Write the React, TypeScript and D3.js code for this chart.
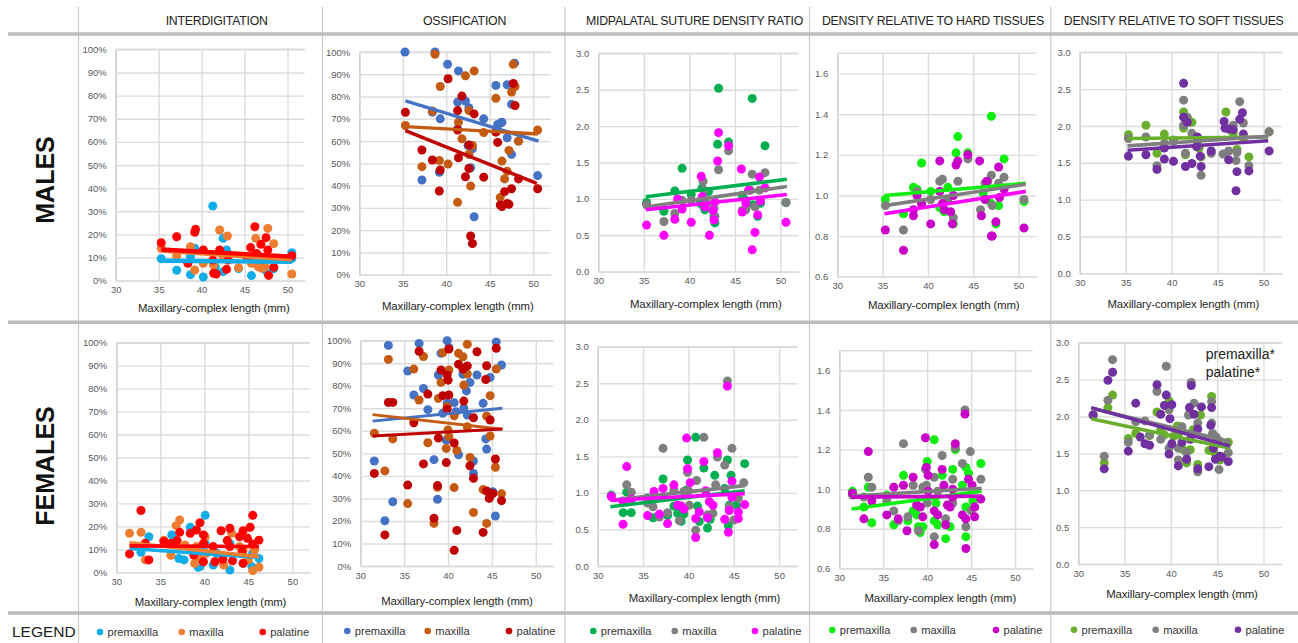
import React, { useEffect, useRef } from "react";
import * as d3 from "d3";

type Pt = [number, number];

const columnTitles = [
  "INTERDIGITATION",
  "OSSIFICATION",
  "MIDPALATAL SUTURE DENSITY RATIO",
  "DENSITY RELATIVE TO HARD TISSUES",
  "DENSITY RELATIVE TO SOFT TISSUES",
];
const seriesNames = ["premaxilla", "maxilla", "palatine"];
const xTicks = [30, 35, 40, 45, 50];
const percentTicks = [0, 10, 20, 30, 40, 50, 60, 70, 80, 90, 100];
const ratioTicks = [0, 0.5, 1, 1.5, 2, 2.5, 3];
const hardTicks = [0.6, 0.8, 1, 1.2, 1.4, 1.6];
const xTitle = "Maxillary-complex length (mm)";

// colours per column: premaxilla, maxilla, palatine
const colors1 = ["#12ade9", "#ed7d31", "#ff0000"];
const colors2 = ["#4472c4", "#c55a11", "#c00000"];
const colors3 = ["#00b050", "#7f7f7f", "#ff00ff"];
const colors4 = ["#0fee0f", "#7f7f7f", "#c800c8"];
const colors5 = ["#6aae2e", "#7f7f7f", "#7030a0"];

// ---- males ----
const mInterPre: Pt[] = [[35.3,9.5],[37.1,4.5],[38.7,2.6],[39.2,14],[40.2,1.6],[41.3,32.3],[42.5,18.3],[42.9,13.3],[42.5,3.9],[44.3,5.2],[45.8,2.2],[48.4,5.2],[47.6,3.9],[50.5,12.1],[50.5,9.6],[46,9],[41.4,7.5],[38.7,10.4],[47.2,7.5],[41.6,6]];
const mInterMax: Pt[] = [[35.3,14],[37.1,10.7],[38.7,14.7],[39.2,4.6],[40.2,7.5],[41.4,6.8],[42.1,21.9],[43,19.3],[42.5,10.4],[44.3,5.6],[45.8,7.5],[46.3,18.3],[46,10.4],[46.6,6],[47,5.3],[47.4,6],[47.7,22.6],[48.4,16],[50.5,2.9],[46.4,7.5]];
const mInterPal: Pt[] = [[35.3,16.4],[37.1,19],[38.4,7.5],[39.3,22.2],[39.2,20.9],[40.2,13.3],[41.3,8.9],[41.4,3.2],[41.7,2.9],[42.1,13.3],[42.9,4.9],[43.1,8.9],[45.7,14.3],[46.2,23.3],[46.4,11.8],[46.9,15.7],[47.5,18.6],[47.7,13.3],[47.8,2.3],[48.4,5.8],[50.5,10.8],[45.3,9.6]];
const mInterTrend = [[35.3,8.6,50.5,8.2],[35.3,13,50.5,9.2],[35.3,13.5,50.5,10.4]];

const mOssPre: Pt[] = [[35.25,100],[38.7,100],[40.15,94.5],[41.4,91.5],[45.7,85],[47,85.3],[47.85,95],[47.5,76.5],[41.3,77.5],[42.2,78],[42.6,75],[38.4,73],[39.3,70],[44.3,70],[45.9,67.5],[46.4,68.5],[46.2,68],[41.3,65.5],[47,61.5],[48.3,60],[47.5,54],[43,56.5],[42.5,58],[42.8,48],[39.2,46],[37.2,42.5],[50.5,44.5],[43.2,26]];
const mOssMax: Pt[] = [[35.3,67],[37.2,48.5],[38.4,73.5],[38.7,99],[39.3,84.5],[39.2,51.3],[40.2,49.7],[41.3,32.5],[41.4,68.5],[41.8,61],[42.2,89.3],[42.6,73.7],[42.6,54],[43,58],[42.8,39.8],[43.2,91.5],[44.3,63.8],[45.7,79.2],[46.2,34.7],[46.4,51],[46.7,43],[47,46.5],[47.2,55.8],[47.5,82],[47.7,94.5],[47.9,84.5],[48.3,60],[50.5,65]];
const mOssPal: Pt[] = [[35.3,72.9],[37.2,56],[38.4,51.5],[39.3,47],[39.2,37.6],[40.2,88],[41.3,73.7],[41.3,65],[41.8,80.2],[41.4,52.5],[42.2,44],[42.6,58.2],[42.6,47.7],[42.8,17.4],[43,14],[43.2,72.2],[44.3,43.8],[45.7,64],[45.9,59.4],[46.2,31.3],[46.4,30.6],[46.7,37.3],[47,32],[47.2,31.6],[47.5,38.6],[47.7,85.9],[47.9,76],[48.3,43],[50.5,38.6]];
const mOssTrend = [[35.3,78,50.6,60],[35.3,66.5,50.5,63.2],[35.3,64.7,50.4,41]];

const mRatioPre: Pt[] = [[35.3,0.95],[37.2,0.83],[38.4,1.11],[39.2,1.42],[40.2,1.06],[41.4,1.15],[41.6,0.89],[41.7,0.85],[42.1,1.1],[42.7,0.76],[42.8,0.67],[43.2,2.52],[43.1,1.75],[44.3,1.78],[45.8,1.05],[46.9,2.38],[47,0.92],[47.5,0.76],[47.8,0.94],[48.3,1.73],[50.6,0.95],[41.2,0.94],[46.2,0.98]];
const mRatioMax: Pt[] = [[35.3,0.92],[37.2,0.69],[38.4,0.8],[39.2,0.98],[40.2,0.98],[41.5,1.24],[41.6,1.12],[41.9,0.94],[42.7,0.87],[42.8,0.76],[43.2,1.4],[44.3,1.66],[45.8,0.84],[46.2,0.85],[46.9,1.34],[46.7,1.12],[47.2,0.89],[47.7,1.12],[48.3,1.36],[50.6,0.95]];
const mRatioPal: Pt[] = [[35.3,0.64],[37.2,0.5],[38.4,0.72],[38.7,1],[39.2,0.86],[40.2,0.68],[41.3,1.31],[41.4,1.03],[41.7,0.89],[42.2,0.5],[42.6,0.84],[42.7,0.71],[42.8,0.96],[43.1,1.52],[43.2,1.91],[44.3,1.73],[45.7,1.41],[45.8,0.82],[46.2,0.94],[46.5,1.12],[46.9,0.3],[47.2,0.54],[47.5,0.78],[47.7,1.3],[47.8,0.97],[48.3,1.15],[50.6,0.68]];
const mRatioTrend = [[35.2,1.03,50.7,1.27],[35.2,0.89,50.7,1.17],[35.2,0.85,50.7,1.06]];

const mHardPre: Pt[] = [[35.3,0.98],[37.3,0.91],[38.4,1.04],[38.8,1.03],[39.3,1.16],[40.3,1.02],[41.3,0.94],[41.8,0.92],[42.2,1.04],[42.8,0.86],[43.1,1.21],[43.3,1.29],[44.4,1.21],[46.1,1.01],[47,1.39],[47.5,0.86],[47.8,0.95],[47,0.96],[48.4,1.18],[50.6,0.97],[46.4,0.98]];
const mHardMax: Pt[] = [[35.3,0.95],[37.3,0.83],[38.8,1.02],[39.3,0.96],[40.3,0.98],[41.3,1.07],[41.6,1.08],[42.2,0.98],[42.8,0.89],[43.3,1.07],[44.4,1.18],[45.8,0.93],[46.3,1.06],[46.6,1.07],[47,1.1],[47.1,0.95],[47.8,1.06],[48.4,1.09],[50.6,0.98]];
const mHardPal: Pt[] = [[35.3,0.83],[37.3,0.73],[38.4,0.9],[38.4,0.93],[38.8,1],[39.3,0.96],[40.3,0.86],[41.3,1.17],[41.3,1.02],[41.6,0.96],[41.8,0.93],[42.5,0.92],[42.7,0.86],[42.8,1],[43.1,1.15],[43.3,1.17],[44.4,1.2],[45.7,1.17],[45.9,0.9],[46.3,0.98],[46.5,1.07],[47,0.8],[47.1,0.8],[47.5,0.87],[47.8,1.14],[47.9,0.99],[48.4,1.03],[50.6,0.84]];
const mHardTrend = [[35.2,1,50.8,1.06],[35.2,0.95,50.8,1.055],[35.2,0.91,50.8,1.02]];

const mSoftPre: Pt[] = [[35.3,1.88],[37.2,2.01],[38.4,1.63],[39.2,1.89],[40.2,1.81],[41.3,2.19],[41.3,1.97],[41.5,1.61],[42.2,2.05],[42.9,1.81],[43,1.7],[43.2,1.58],[44.3,1.65],[45.9,2.19],[46.3,1.95],[46.7,1.9],[47.1,1.68],[47.8,1.83],[48.4,1.58],[50.6,1.92]];
const mSoftMax: Pt[] = [[35.3,1.83],[37.2,1.85],[38.4,1.46],[39.2,1.76],[40.2,1.79],[41.3,2.35],[41.3,2.01],[41.5,1.63],[41.7,2.12],[42.2,1.9],[42.9,1.72],[43.2,1.33],[44.3,1.63],[45.6,1.62],[46.2,1.66],[46.7,2.01],[47,1.53],[47.1,1.64],[47.4,2.33],[47.8,2.04],[48.4,1.46],[50.6,1.92]];
const mSoftPal: Pt[] = [[35.3,1.59],[37.2,1.61],[38.4,1.41],[39.2,1.55],[39.2,1.7],[40.2,1.52],[41.3,2.58],[41.3,2.12],[41.5,1.45],[41.7,2.05],[42.2,1.49],[42.8,1.85],[42.7,1.72],[43.1,1.59],[43.2,1.45],[44.3,1.66],[45.7,2.06],[45.8,1.97],[46.2,1.96],[46.2,1.54],[46.7,1.95],[47,1.12],[47.1,1.38],[47.4,2.09],[47.7,2.18],[47.8,1.89],[48.4,1.39],[50.6,1.66]];
const mSoftTrend = [[35.2,1.83,50.5,1.85],[35.2,1.73,50.5,1.86],[35.2,1.67,50.5,1.8]];

// ---- females ----
const fInterPre: Pt[] = [[32.8,8.7],[33.7,15.5],[36.3,16.3],[37.1,6],[37.7,5.4],[38.4,19.6],[39.3,2.2],[39.5,2.5],[40.1,24.8],[40.1,12.6],[41,3.2],[42.9,1],[44.4,3.9],[45.5,8.3],[45.4,2.5],[46.2,6],[39.9,11.2],[41.4,8.3],[42.9,12.6]];
const fInterMax: Pt[] = [[31.5,17],[32.8,17.4],[33.3,5.4],[35.4,14],[36.2,7.4],[36.8,20.3],[37.2,22.8],[37.8,11.9],[38.9,3.9],[39.1,11.2],[40.1,15.5],[40.2,8.3],[42.2,3.2],[43.1,17],[44,11.2],[44.4,9.7],[45,5.4],[45.5,0.7],[46.2,2.2],[45.7,9.7],[39.5,6]];
const fInterPal: Pt[] = [[31.5,8],[32.8,26.9],[33.3,12.6],[33.7,5.4],[35.4,13.4],[36.2,12.6],[36.9,13.8],[37.2,17.4],[38.4,17],[38.8,7.5],[39.1,18.4],[39.5,21.6],[39.9,16.3],[39.9,4.6],[39.9,12.6],[41.2,4.6],[41,11.2],[41.9,18.1],[42.1,5.7],[42.9,19.2],[42.6,13.8],[43.2,5],[42.9,11.2],[44,15.5],[44.4,18.1],[44.4,3.9],[44.9,14.8],[45.2,19.6],[45.5,24.8],[45.5,12.3],[46.2,14],[44.3,9]];
const fInterTrend = [[31.5,10.4,46.2,6.5],[31.5,12.9,46.2,6.8],[31.5,11.5,46.2,11.2]];

const fOssPre: Pt[] = [[31.6,46.6],[32.8,20.1],[33.2,97.9],[33.7,28.5],[35.4,86.5],[36.1,75.9],[36.7,98.8],[37.2,78.8],[37.7,69.4],[38.4,47.2],[38.8,29.6],[38.9,84.8],[39.2,94.4],[39.4,67.8],[39.9,100],[39.9,72.2],[39.8,55.9],[40.1,96.9],[40.7,72.5],[40.9,68.5],[41.2,49.4],[41.7,85.1],[41.8,70],[42.1,77.7],[42.2,67],[42.5,81.5],[42.9,46.6],[42.9,41.1],[43.3,84.8],[44,72.2],[44.3,56.4],[44.4,51.9],[44.8,83.7],[45.1,33],[45.4,22.2],[45.5,99.4],[46.1,89.2]];
const fOssMax: Pt[] = [[31.6,58.9],[32.8,42.2],[33.2,91.7],[33.7,56.4],[35.4,27.7],[36.1,87.4],[36.7,73.7],[37.2,93],[37.7,54.7],[38.4,18.9],[38.8,34.9],[38.9,74.4],[39.2,81.5],[39.4,94.7],[39.8,52.2],[39.9,70.7],[40,60.4],[40.1,87],[40.1,57.4],[40.7,34.8],[40.7,66.7],[41,51.3],[41.2,94.4],[41.7,92.9],[41.8,80.3],[42.2,85.2],[42.2,98.4],[42.2,61.8],[42.5,48.2],[42.9,23.8],[44,33.9],[44.4,18.9],[44.4,66.6],[44.8,75.6],[44.8,57.7],[45.4,43.8],[45.5,87.4],[46.1,32.1]];
const fOssPal: Pt[] = [[31.6,41.1],[32.8,13.8],[33.2,72.6],[33.7,72.6],[35.4,35.9],[36.1,63.6],[36.7,95.3],[37.2,45.3],[37.7,76.3],[38.4,21.2],[38.8,35.7],[38.9,56.8],[39.2,87],[39.4,75.6],[39.8,45.9],[39.9,84.8],[39.9,69.7],[40,82.5],[40.1,96.3],[40.1,75.9],[40.7,54.6],[40.7,7],[41,15.8],[41.2,89.5],[41.7,87.4],[41.8,73.2],[42.2,88.8],[42.5,44.5],[42.9,38.9],[42.9,65.8],[43.3,95.1],[44,14.9],[44.4,33.3],[44.4,88.9],[44.3,82.8],[44.7,30],[44.8,64.8],[45.1,32.2],[45.4,47.5],[45.5,96.6],[46.1,29]];
const fOssTrend = [[31.4,64.3,46.2,70],[31.4,67.2,46.2,60.7],[31.4,57.7,46.2,60.8]];

const fRatioPre: Pt[] = [[31.5,0.97],[32.8,0.73],[33.2,1.01],[33.7,0.73],[35.5,0.93],[36.1,0.66],[36.8,0.69],[37.2,1.19],[37.7,0.69],[38.4,0.82],[38.8,0.72],[39.2,0.61],[39.5,0.71],[39.9,1.45],[39.8,1.04],[40.8,1.76],[41,0.82],[41.2,0.61],[41.7,1.34],[42.1,0.52],[42.4,0.64],[42.9,1.24],[44,1.06],[44.3,1.45],[44.4,0.55],[44.5,0.83],[44.7,1.24],[45.3,0.83],[46.2,1.4],[44.9,0.95]];
const fRatioMax: Pt[] = [[31.5,0.96],[32.8,0.88],[33.2,1.11],[33.7,1.01],[35.5,0.86],[36.1,0.81],[36.8,0.67],[37.2,1.61],[37.7,0.73],[38.4,1.04],[39,0.62],[39.5,1.02],[39.9,1.28],[40,1.03],[40.1,0.83],[40.8,0.49],[40.9,1.17],[41.7,1.76],[42.1,0.7],[42.7,0.72],[43,1.11],[43.2,1.49],[44,1.38],[44.3,2.53],[44.5,0.81],[44.8,1.61],[45,0.63],[45.5,0.93],[46.1,1.14]];
const fRatioPal: Pt[] = [[31.5,0.95],[32.8,0.89],[32.8,0.57],[33.2,1.36],[33.7,0.91],[35.5,0.69],[36.2,1.02],[36.8,0.71],[37.2,1.06],[37.7,0.58],[38.4,1.11],[38.8,0.83],[39.2,0.82],[39.5,0.78],[39.8,1.75],[39.9,1.33],[40.2,1.14],[40.8,0.65],[40.8,0.39],[41.2,0.74],[41.7,1.43],[41.9,1.03],[42.1,0.66],[42.3,0.88],[42.7,0.83],[43.2,1.55],[44,0.64],[44.3,2.46],[44.4,0.46],[44.5,0.76],[44.8,1.16],[44.8,0.94],[45.5,0.74],[45.5,0.65],[46.2,0.84]];
const fRatioTrend = [[31.4,0.81,46.2,1.03],[31.4,0.9,46.2,1.1],[31.4,0.9,46.2,0.99]];

const fHardPre: Pt[] = [[31.5,0.99],[32.8,0.91],[33.3,1.01],[33.7,0.83],[35.4,0.97],[36.2,0.82],[37.3,1.07],[37.8,0.84],[38.4,0.89],[38.8,0.87],[39,0.81],[39.5,0.81],[39.2,0.78],[40,1.14],[40.8,1.25],[41,0.93],[40.8,0.84],[41.2,0.82],[41.7,1.07],[42.1,0.75],[42.6,0.81],[42.9,1.1],[43.2,1.2],[44,1.02],[44.4,1.11],[44.4,0.76],[44.4,0.91],[44.7,1.08],[45.2,0.94],[46.1,1.13]];
const fHardMax: Pt[] = [[31.5,0.97],[32.8,0.96],[33.3,1.06],[33.7,1.01],[35.4,0.94],[36.2,0.89],[36.7,0.84],[37.3,1.23],[37.8,0.86],[38.4,1.02],[39,0.79],[39.5,1.01],[39.8,1.1],[40,0.93],[39.9,1.02],[40.8,0.76],[40.8,1.06],[41.2,0.99],[41.7,1.17],[42.1,0.85],[42.9,0.93],[42.9,1.05],[43.2,1.21],[44,1.13],[44.3,1.4],[44.4,0.81],[44.9,1.19],[45,0.89],[46.1,1.05]];
const fHardPal: Pt[] = [[31.5,0.98],[32.8,0.85],[33.3,1.19],[33.7,0.94],[35.4,0.87],[36.2,1.01],[36.7,0.85],[37.3,1.02],[37.7,0.79],[38.4,1.06],[38.8,0.92],[39.2,0.91],[39.5,0.86],[39.8,1.26],[39.9,1.11],[40.1,1.07],[40.1,0.99],[40.8,0.89],[40.8,0.72],[41.2,0.87],[41.7,1.1],[41.9,1.02],[42.1,0.82],[42.3,0.92],[42.6,0.91],[42.9,1],[43.2,1.23],[42.9,0.96],[44,0.87],[44.3,1.38],[44.4,0.85],[44.4,0.7],[44.7,1.05],[45.1,1.02],[45.4,0.91],[45.4,0.86],[46.1,0.95]];
const fHardTrend = [[31.4,0.9,46.2,0.99],[31.4,0.965,46.2,1.005],[31.4,0.96,46.2,0.965]];

const fSoftPre: Pt[] = [[31.6,2.02],[32.8,1.37],[33.2,2.12],[33.7,2.29],[35.4,1.7],[36.2,1.77],[37.7,1.74],[38.5,2.06],[38.9,1.82],[39.8,2.21],[40.3,1.73],[40.7,1.87],[40.8,1.77],[41.3,1.55],[41.7,1.37],[42.1,1.55],[42.4,1.82],[42.9,1.35],[43.2,2.02],[44.1,1.54],[44.4,2.27],[44.6,1.52],[45.3,1.41],[46.2,1.65],[39.3,1.75],[45.1,1.68]];
const fSoftMax: Pt[] = [[31.6,2.02],[32.8,1.46],[33.2,2.22],[33.7,2.77],[35.4,1.65],[36.2,1.93],[37.2,1.94],[37.7,1.75],[38.5,2.34],[38.9,1.69],[39.5,2.68],[39.8,2.09],[39.8,1.57],[40.8,1.41],[40.8,1.57],[41.2,1.86],[41.7,1.51],[41.9,2.02],[42.2,2.46],[42.5,2.18],[42.9,1.25],[42.9,1.91],[44.4,2.2],[44.4,1.91],[44.5,1.77],[44.9,1.72],[45.2,1.28],[46.2,1.51]];
const fSoftPal: Pt[] = [[31.6,2.02],[32.8,1.29],[33.2,2.49],[33.7,2.6],[35.4,1.53],[36.2,2.18],[36.7,1.72],[37.2,1.63],[37.7,1.61],[38.5,2.43],[38.9,2.03],[39.3,2.15],[39.5,2.29],[39.9,1.97],[39.8,1.49],[40.1,2.16],[40.1,1.63],[40.8,1.33],[41.2,1.65],[41.7,1.42],[42,2.12],[42.2,2.42],[42.1,1.69],[42.5,2.03],[42.9,1.83],[42.9,1.29],[43.3,2.13],[44.1,1.32],[44.4,2.12],[44.3,1.88],[44.6,1.57],[44.8,1.42],[45.3,1.46],[45.5,1.45],[46.2,1.39]];
const fSoftTrend = [[31.4,1.97,46.4,1.57],[31.4,2.11,46.4,1.66],[31.4,2.12,46.4,1.6]];

const fmtPct = (d: number) => d + "%";
const fmtOne = d3.format(".1f");

// box = left, right, top, bottom in page pixels; title = x centre, baseline
const panels = [
  { box: [115.7, 304.7, 49.3, 280.7], title: [213.8, 312], dom: [0, 100], ticks: percentTicks, fmt: fmtPct, colors: colors1, sets: [mInterPre, mInterMax, mInterPal], trend: mInterTrend, lw: 4.4 },
  { box: [359.3, 550.7, 52, 274.7], title: [457.8, 310], dom: [0, 100], ticks: percentTicks, fmt: fmtPct, colors: colors2, sets: [mOssPre, mOssMax, mOssPal], trend: mOssTrend, lw: 3.4 },
  { box: [598.3, 798.7, 53.3, 271.7], title: [705.8, 308], dom: [0, 3], ticks: ratioTicks, fmt: fmtOne, colors: colors3, sets: [mRatioPre, mRatioMax, mRatioPal], trend: mRatioTrend, lw: 3.6 },
  { box: [837.3, 1036.7, 53.3, 276.7], title: [943.7, 309], dom: [0.6, 1.7], ticks: hardTicks, fmt: fmtOne, colors: colors4, sets: [mHardPre, mHardMax, mHardPal], trend: mHardTrend, lw: 3.6, lineColor: "#ff00ff" },
  { box: [1079.7, 1282, 52.3, 273.3], title: [1183.3, 308], dom: [0, 3], ticks: ratioTicks, fmt: fmtOne, colors: colors5, sets: [mSoftPre, mSoftMax, mSoftPal], trend: mSoftTrend, lw: 3.6 },
  { box: [116.3, 310, 342.7, 572.3], title: [210.5, 605.5], dom: [0, 100], ticks: percentTicks, fmt: fmtPct, colors: colors1, sets: [fInterPre, fInterMax, fInterPal], trend: fInterTrend, lw: 3.6 },
  { box: [360.3, 553.3, 340.7, 566], title: [457, 605], dom: [0, 100], ticks: percentTicks, fmt: fmtPct, colors: colors2, sets: [fOssPre, fOssMax, fOssPal], trend: fOssTrend, lw: 2.9 },
  { box: [597.7, 797.3, 346.7, 566], title: [704.5, 602], dom: [0, 3], ticks: ratioTicks, fmt: fmtOne, colors: colors3, sets: [fRatioPre, fRatioMax, fRatioPal], trend: fRatioTrend, lw: 3.6 },
  { box: [839.3, 1032.7, 350.7, 568.3], title: [940.3, 601.5], dom: [0.6, 1.7], ticks: hardTicks, fmt: fmtOne, colors: colors4, sets: [fHardPre, fHardMax, fHardPal], trend: fHardTrend, lw: 3.6 },
  { box: [1078.3, 1282, 342.7, 564], title: [1182, 598], dom: [0, 3], ticks: ratioTicks, fmt: fmtOne, colors: colors5, sets: [fSoftPre, fSoftMax, fSoftPal], trend: fSoftTrend, lw: 3.6 },
];

// layout of the page furniture
const headerX = [216.7, 464.5, 694.5, 933, 1173.7];
const ruleY = [34, 322.3, 613];
const dividerX = [78.5, 322.5, 565, 809.5, 1050.7];
const legendDots = [
  [100, 181.7, 262.7, 632],
  [347.3, 427.7, 509, 631],
  [593.3, 674.7, 755, 631],
  [832.3, 913.7, 996, 630],
  [1074, 1155.7, 1238, 629.7],
];
const legendColors = [colors1, colors2, colors3, colors4, colors5];

const FONT = "'Liberation Sans', Arial, sans-serif";

export default function App() {
  const ref = useRef<SVGSVGElement>(null);

  useEffect(() => {
    const svg = d3.select(ref.current);
    svg.selectAll("*").remove();
    svg.append("rect").attr("width", 1298).attr("height", 643).attr("fill", "#fff");

    // table rules
    dividerX.forEach((x) => {
      svg.append("line").attr("x1", x).attr("x2", x).attr("y1", 7).attr("y2", 643)
        .attr("stroke", "#c9c9c9").attr("stroke-width", 1.2);
    });
    ruleY.forEach((y) => {
      svg.append("line").attr("x1", 8).attr("x2", 1298).attr("y1", y).attr("y2", y)
        .attr("stroke", "#bdbdbd").attr("stroke-width", 3.4);
    });

    columnTitles.forEach((t, i) => {
      svg.append("text").attr("x", headerX[i]).attr("y", 24.5)
        .attr("text-anchor", "middle").attr("font-family", FONT).attr("font-size", 12.3)
        .attr("letter-spacing", -0.22).attr("fill", "#222").text(t);
    });

    // row labels
    [["MALES", 54, 180], ["FEMALES", 54, 466]].forEach(([t, x, y]) => {
      svg.append("text").attr("transform", `translate(${x},${y}) rotate(-90)`)
        .attr("text-anchor", "middle").attr("font-family", FONT).attr("font-size", 25)
        .attr("font-weight", "bold").attr("fill", "#111").text(t as string);
    });
    svg.append("text").attr("x", 12).attr("y", 637).attr("font-family", FONT)
      .attr("font-size", 15.5).attr("fill", "#222").text("LEGEND");

    panels.forEach((p) => {
      const [left, right, top, bottom] = p.box;
      const x = d3.scaleLinear().domain([30, 52]).range([left, right]);
      const y = d3.scaleLinear().domain(p.dom).range([bottom, top]);
      const g = svg.append("g").attr("font-family", FONT);

      const xAxis = g.append("g").attr("transform", `translate(0,${bottom})`)
        .call(d3.axisBottom(x).tickValues(xTicks).tickSizeInner(-(bottom - top)).tickSizeOuter(0).tickPadding(6));
      const yAxis = g.append("g").attr("transform", `translate(${left},0)`)
        .call(d3.axisLeft(y).tickValues(p.ticks).tickFormat(p.fmt as any).tickSizeInner(-(right - left)).tickSizeOuter(0).tickPadding(9));
      [xAxis, yAxis].forEach((a) => {
        a.selectAll("line").attr("stroke", "#dcdcdc").attr("stroke-width", 1.4);
        a.select(".domain").attr("stroke", "#d0d0d0").attr("stroke-width", 1.4);
        a.selectAll("text").attr("fill", "#595959").attr("font-size", 9.5).attr("font-family", FONT);
      });
      // panels with a cut-off axis still have a line along the top
      g.append("line").attr("x1", left).attr("x2", right).attr("y1", top).attr("y2", top)
        .attr("stroke", "#dcdcdc").attr("stroke-width", 1.4);

      p.sets.forEach((pts, i) => {
        g.append("g").selectAll("circle").data(pts).join("circle")
          .attr("cx", (d) => x(d[0])).attr("cy", (d) => y(d[1])).attr("r", 4.5)
          .attr("fill", p.colors[i]);
      });
      p.trend.forEach((t, i) => {
        const color = i === 2 && p.lineColor ? p.lineColor : p.colors[i];
        g.append("line").attr("x1", x(t[0])).attr("y1", y(t[1])).attr("x2", x(t[2])).attr("y2", y(t[3]))
          .attr("stroke", color).attr("stroke-width", p.lw);
      });

      g.append("text").attr("x", p.title[0]).attr("y", p.title[1]).attr("text-anchor", "middle")
        .attr("font-size", 11.4).attr("letter-spacing", -0.12).attr("fill", "#262626").text(xTitle);
    });

    // legend row
    legendDots.forEach((row, c) => {
      seriesNames.forEach((name, i) => {
        svg.append("circle").attr("cx", row[i]).attr("cy", row[3]).attr("r", 3.3)
          .attr("fill", legendColors[c][i]);
        svg.append("text").attr("x", row[i] + 7.5).attr("y", row[3] + 4)
          .attr("font-family", FONT).attr("font-size", 11.1).attr("fill", "#333").text(name);
      });
    });

    // significance note in the last panel
    ["premaxilla*", "palatine*"].forEach((t, i) => {
      svg.append("text").attr("x", 1205.7).attr("y", 359 + i * 17.6)
        .attr("font-family", FONT).attr("font-size", 14).attr("fill", "#222").text(t);
    });
  }, []);

  return <svg ref={ref} width={1298} height={643} style={{ position: "absolute", left: 0, top: 0 }} />;
}
